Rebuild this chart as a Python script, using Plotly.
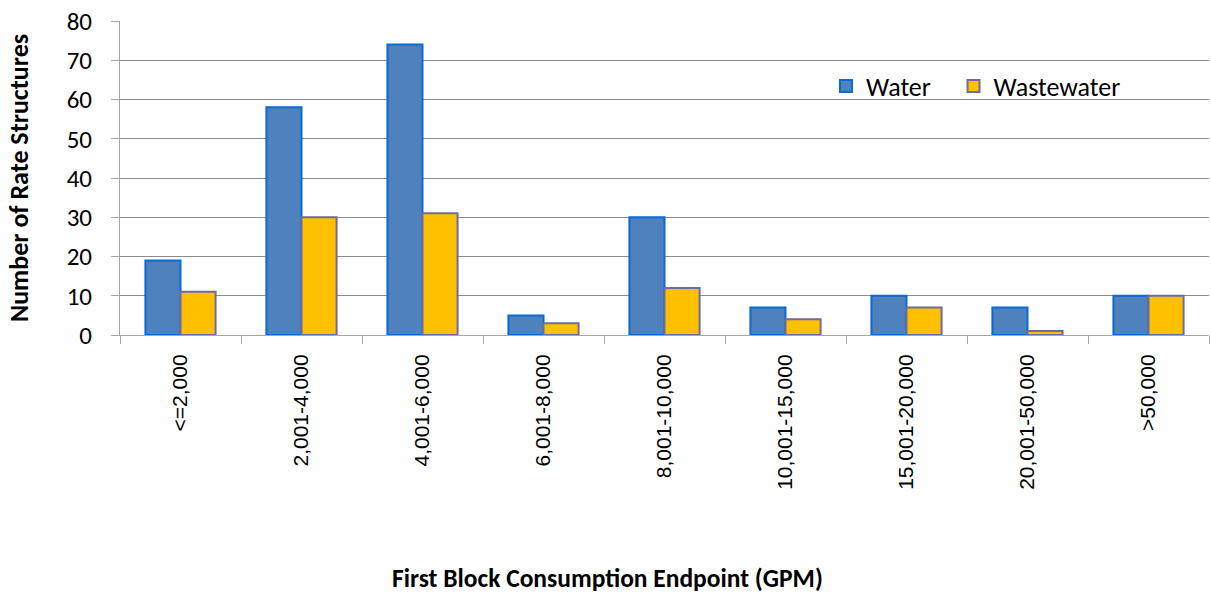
import plotly.graph_objects as go

categories = ["<=2,000", "2,001-4,000", "4,001-6,000", "6,001-8,000", "8,001-10,000",
              "10,001-15,000", "15,001-20,000", "20,001-50,000", ">50,000"]
water = [19, 58, 74, 5, 30, 7, 10, 7, 10]
wastewater = [11, 30, 31, 3, 12, 4, 7, 1, 10]
y_ticks = [0, 10, 20, 30, 40, 50, 60, 70, 80]

CAL = "Carlito, Calibri, Lato, sans-serif"
ARIAL = "Liberation Sans, Arial, sans-serif"

W, H = 1211, 594
ml, mt = 120, 21
pw, ph = 1089, 314
mr = W - ml - pw
mb = H - mt - ph


def px(xp):
    return (xp - ml) / pw


def py(yp):
    return (mt + ph - yp) / ph


fig = go.Figure()
fig.add_trace(go.Bar(x=categories, y=water, name="Water\u00a0\u00a0\u00a0",
                     marker=dict(color="#4F81BD", line=dict(color="#0A6AD6", width=2))))
fig.add_trace(go.Bar(x=categories, y=wastewater, name="Wastewater",
                     marker=dict(color="#FFC000", line=dict(color="#6E6AA2", width=2))))

fig.update_layout(
    width=W, height=H,
    margin=dict(l=ml, r=mr, t=mt, b=mb, autoexpand=False),
    paper_bgcolor="white", plot_bgcolor="white",
    barmode="group", bargap=0.42, bargroupgap=0,
    font=dict(family=CAL, color="#000000"),
    legend=dict(orientation="h", x=px(826), xanchor="left", y=py(86), yanchor="middle",
                bgcolor="rgba(0,0,0,0)", font=dict(size=26, family=CAL), itemwidth=30,
                borderwidth=0, tracegroupgap=0),
    showlegend=True,
)
# white backdrop behind the legend, hiding the gridlines there
fig.add_shape(type="rect", xref="paper", yref="paper", x0=px(807), x1=px(1153),
              y0=py(130), y1=py(45), fillcolor="white", line=dict(width=0), layer="between")

fig.update_xaxes(
    type="category", tickson="boundaries", ticks="outside", ticklen=8, tickcolor="#A6A6A6",
    showline=True, linecolor="#A6A6A6", linewidth=1, tickangle=-90,
    tickfont=dict(size=21, family=ARIAL), automargin=False, showgrid=False,
    ticklabelstandoff=10,
)
fig.update_yaxes(
    range=[0, 80], tickvals=y_ticks, ticks="outside", ticklen=8, tickcolor="#A6A6A6",
    showline=True, linecolor="#A6A6A6", linewidth=1, gridcolor="#8C8C8C", gridwidth=1,
    tickfont=dict(size=25, family=CAL), automargin=False, zeroline=False,
    ticklabelstandoff=14,
)
fig.add_annotation(text="<b>Number of Rate Structures</b>", textangle=-90,
                   xref="paper", yref="paper", x=px(19), y=py(178),
                   xanchor="center", yanchor="middle", showarrow=False,
                   font=dict(size=26, family=CAL))
fig.add_annotation(text="<b>First Block Consumption Endpoint (GPM)</b>",
                   xref="paper", yref="paper", x=px(607), y=py(578),
                   xanchor="center", yanchor="middle", showarrow=False,
                   font=dict(size=25.5, family=CAL))

fig.write_html("out.html", config={"displayModeBar": False},
               post_script="document.body.style.margin='0';")
